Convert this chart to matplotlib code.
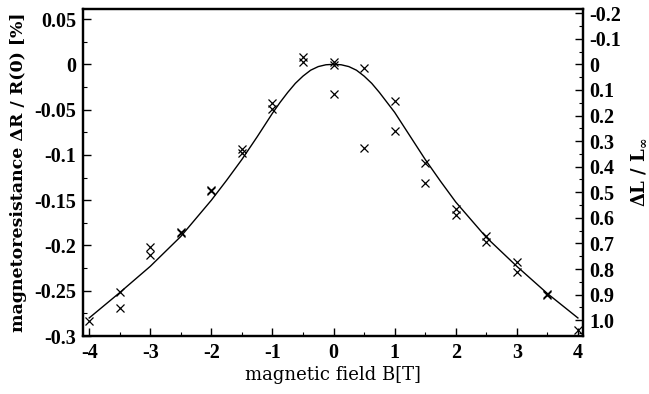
import matplotlib
matplotlib.use("Agg")
import matplotlib.pyplot as plt
from matplotlib.ticker import MultipleLocator, FixedLocator, FixedFormatter

# measured points (magnetic field in T, dR/R in %)
field = [-4, -3.5, -3.5, -3, -3, -2.5, -2.5, -2, -2, -1.5, -1.5, -1, -1,
         -0.5, -0.5, 0, 0, 0, 0.5, 0.5, 1, 1, 1.5, 1.5, 2, 2, 2.5, 2.5,
         3, 3, 3.5, 3.5, 4]
dR = [-0.2834, -0.251, -0.269, -0.202, -0.2106, -0.1848, -0.1866, -0.1388, -0.140,
      -0.0935, -0.0983, -0.043, -0.049, 0.0084, 0.003, 0.003, -0.0008, -0.0331,
      -0.0044, -0.092, -0.0405, -0.0736, -0.109, -0.1307, -0.1598, -0.1664,
      -0.190, -0.1959, -0.2186, -0.229, -0.2535, -0.2545, -0.2934]

# fitted curve
fit_B = [-4, -3.5, -3, -2.5, -2, -1.75, -1.5, -1.25, -1, -0.875, -0.75, -0.625,
         -0.5, -0.375, -0.25, -0.125, 0, 0.125, 0.25, 0.375, 0.5, 0.625, 0.75,
         0.875, 1, 1.25, 1.5, 1.75, 2, 2.5, 3, 3.5, 4]
fit_dR = [-0.280, -0.252, -0.223, -0.190, -0.150, -0.128, -0.105, -0.080, -0.054,
          -0.042, -0.031, -0.021, -0.013, -0.0065, -0.0025, -0.0005, 0.0,
          -0.0005, -0.0025, -0.0065, -0.013, -0.021, -0.031, -0.042, -0.053,
          -0.079, -0.105, -0.129, -0.152, -0.191, -0.223, -0.253, -0.280]

left_ticks = [0.05, 0, -0.05, -0.1, -0.15, -0.2, -0.25, -0.3]
left_labels = ["0.05", "0", "-0.05", "-0.1", "-0.15", "-0.2", "-0.25", "-0.3"]
right_ticks = [-0.2, -0.1, 0, 0.1, 0.2, 0.3, 0.4, 0.5, 0.6, 0.7, 0.8, 0.9, 1.0]
right_labels = ["-0.2", "-0.1", "0", "0.1", "0.2", "0.3", "0.4", "0.5", "0.6",
                "0.7", "0.8", "0.9", "1.0"]
x_ticks = [-4, -3, -2, -1, 0, 1, 2, 3, 4]

scale = 0.2825  # dR/R per unit of dL/L

plt.rcParams['font.family'] = ['Liberation Serif', 'DejaVu Serif']
plt.rcParams['mathtext.fontset'] = 'dejavuserif'

fig = plt.figure(figsize=(6.49, 3.94), dpi=100)
ax = fig.add_axes([0.128, 0.147, 0.770, 0.830])

ax.plot(fit_B, fit_dR, color='black', lw=1.0)
ax.plot(field, dR, linestyle='none', marker='x', color='black', ms=6, mew=0.9)

ylo, yhi = -0.3, 0.061
ax.set_xlim(-4.1, 4.08)
ax.set_ylim(ylo, yhi)

ax.set_xticks(x_ticks)
ax.set_xticklabels([str(t) for t in x_ticks])
ax.xaxis.set_minor_locator(MultipleLocator(0.5))
ax.yaxis.set_major_locator(FixedLocator(left_ticks))
ax.yaxis.set_major_formatter(FixedFormatter(left_labels))
ax.yaxis.set_minor_locator(MultipleLocator(0.025))

ax.tick_params(axis='both', which='major', direction='in', length=6, width=1,
               labelsize=14.5, pad=5)
ax.tick_params(axis='both', which='minor', direction='in', length=3, width=0.8)
ax.tick_params(axis='y', right=False, which='both')
for lab in ax.get_xticklabels() + ax.get_yticklabels():
    lab.set_fontweight('bold')
for s in ax.spines.values():
    s.set_linewidth(1.6)

ax.set_xlabel('magnetic field B[T]', fontsize=13, family='DejaVu Serif', labelpad=2)
ax.set_ylabel('magnetoresistance ΔR / R(0) [%]', fontsize=12.5, family='DejaVu Serif',
              fontweight='bold', labelpad=5)

ax2 = ax.twinx()
ax2.set_ylim(-ylo / scale, -yhi / scale)
ax2.yaxis.set_major_locator(FixedLocator(right_ticks))
ax2.yaxis.set_major_formatter(FixedFormatter(right_labels))
ax2.yaxis.set_minor_locator(MultipleLocator(0.05))
ax2.tick_params(axis='y', which='major', direction='in', length=6, width=1,
                labelsize=14.5, pad=5)
ax2.tick_params(axis='y', which='minor', direction='in', length=3, width=0.8)
for lab in ax2.get_yticklabels():
    lab.set_fontweight('bold')
for s in ax2.spines.values():
    s.set_linewidth(1.6)
ax2.set_ylabel(r'ΔL / L$_\mathbf{\infty}$', fontsize=13, family='DejaVu Serif',
               fontweight='bold', labelpad=5)

fig.savefig('out.png', dpi=100)
